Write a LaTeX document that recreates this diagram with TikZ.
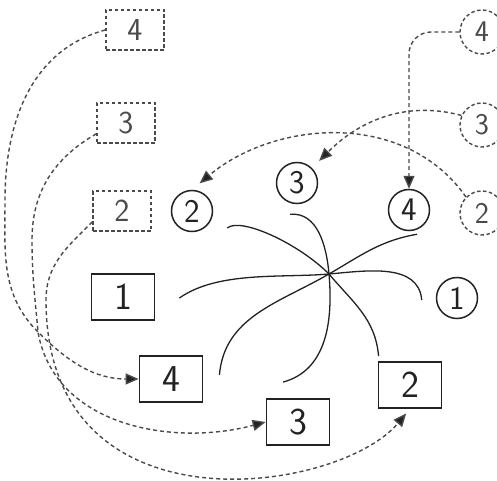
\documentclass[tikz,border=0pt]{standalone}
\usepackage{tikz}
\usetikzlibrary{arrows.meta,calc}
\definecolor{ink}{HTML}{222222}
\definecolor{smudge}{HTML}{4a4a4a}
\tikzset{slot/.style={draw=ink,line width=1.8pt,minimum width=63pt,minimum height=46pt,inner sep=0pt,font=\fontsize{38}{38}\sffamily,text=ink}, port/.style={circle,draw=ink,line width=1.5pt,minimum size=41pt,inner sep=0pt,font=\fontsize{33}{33}\sffamily,text=ink}, ghost/.style={draw=smudge,text=smudge,line width=1.4pt,dash pattern=on 3.5pt off 2.5pt}, gslot/.style={slot,ghost,minimum width=58pt,minimum height=40pt,font=\fontsize{32}{32}\sffamily}, gport/.style={port,ghost,minimum size=44pt,font=\fontsize{30}{30}\sffamily}, wire/.style={draw=ink,line width=1.3pt}, move/.style={draw=smudge,line width=1.4pt,dash pattern=on 4pt off 3pt,-{Triangle[length=13pt,width=11pt,fill=ink]}}}

\begin{document}
\begin{tikzpicture}[x=1pt,y=1pt]
\useasboundingbox (0,0) rectangle (497,480);
\coordinate (hub) at (329,206);
\coordinate (knot) at (38,148);
\node[gslot] (gb4) at (135,450) {4};
\node[gslot] (gb3) at (126,357) {3};
\node[gslot] (gb2) at (122,269) {2};
\node[gport] (gc4) at (482,448) {4};
\node[gport] (gc3) at (482,355) {3};
\node[gport] (gc2) at (482,267) {2};
\node[port] (c2) at (192,269) {2};
\node[port] (c3) at (297,297) {3};
\node[port] (c4) at (409,270) {4};
\node[port] (c1) at (457,182) {1};
\node[slot] (b1) at (123,183) {1};
\node[slot] (b4) at (171,101) {4};
\node[slot] (b3) at (298,58) {3};
\node[slot] (b2) at (410,95) {2};
\draw[wire] ($(b1.east)+(24,-1)$) to[out=35,in=185,looseness=0.8] (hub) to[out=5,in=95] ($(c1.west)+(-14,-2)$);
\draw[wire] ($(c2.east)+(14,-17)$) to[out=40,in=135,out looseness=0.4] (hub) to[out=-50,in=95] ($(b2.north west)+(1,5)$);
\draw[wire] ($(c3.south)+(-7,-10)$) to[out=5,in=95] (hub) to[out=-85,in=15] ($(b3.north)+(-15,16)$);
\draw[wire] ($(c4.south)+(8,-3)$) to[out=190,in=30] (hub) to[out=210,in=85] ($(b4.east)+(16,4)$);
\draw[move,rounded corners=22pt] (gc4.west) -| (c4.north);
\draw[move,shorten >=10pt] (gc3.155) to[out=165,in=45] (c3.45);
\draw[move,shorten >=10pt] (gc2.135) to[out=125,in=40] (c2.north);
\draw[move] (gb4.west) to[out=195,in=90] (5,280) to[out=-90,in=135] (knot) to[out=-45,in=180] (b4.west);
\draw[move] (gb3.200) to[out=210,in=90] (32,240) to[out=-90,in=95] (knot) to[out=-80,in=195] (b3.west);
\draw[move,shorten >=6pt] (gb2.200) to[out=225,in=90] (46,180) to[out=-90,in=230,out looseness=1.6,in looseness=0.75] (b2.south);
\end{tikzpicture}
\end{document}
